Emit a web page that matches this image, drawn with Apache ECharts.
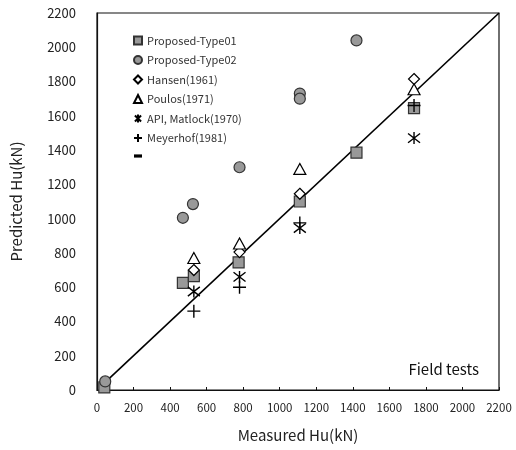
<!DOCTYPE html>
<html><head><meta charset="utf-8">
<script src="https://cdn.jsdelivr.net/npm/echarts@6/dist/echarts.min.js"></script>
<style>html,body{margin:0;padding:0;background:#fff}#c{width:516px;height:450px}</style>
</head><body><div id="c"></div>
<script>
// Measured vs predicted ultimate lateral capacity, field tests (kN)
const type01   = [[40,15],[470,625],[530,665],[775,745],[1110,1100],[1420,1385],[1735,1645]];
const type02   = [[45,50],[470,1005],[525,1085],[780,1300],[1110,1730],[1110,1700],[1420,2040]];
const hansen   = [[530,700],[780,805],[1110,1145],[1735,1815]];
const poulos   = [[530,770],[780,855],[1110,1290],[1735,1755]];
const apiMatlock = [[530,575],[780,660],[1110,945],[1735,1470]];
const meyerhof = [[530,460],[780,600],[1110,975],[1735,1660]];
const equality = [[50,50],[2200,2200]];
const axisMin = 0, axisMax = 2200, axisStep = 200;

const FONT = '"Noto Sans CJK KR", "Noto Sans", sans-serif';
const ASTERISK = 'path://M-5,-5L5,5M-5,5L5,-5M0,-6.5L0,6.5';
const PLUS = 'path://M-6,0L6,0M0,-6L0,6';
const DASH = 'path://M0,0L10,0L10,4L0,4Z';
const plain = v => String(v);

const chart = echarts.init(document.getElementById('c'), null, {renderer: 'canvas'});
chart.setOption({
  backgroundColor: '#fff',
  animation: false,
  grid: {left: 97, right: 17, top: 13, bottom: 60, show: true, borderColor: '#111', borderWidth: 1.2, backgroundColor: 'transparent'},
  xAxis: {
    type: 'value', min: axisMin, max: axisMax, interval: axisStep,
    name: 'Measured Hu(kN)', nameLocation: 'middle', nameGap: 38,
    nameTextStyle: {fontFamily: FONT, fontSize: 15, color: '#222'},
    axisLine: {show: true, lineStyle: {color: '#111', width: 1.2}},
    axisTick: {show: true, inside: true, length: 3, lineStyle: {color: '#111'}},
    axisLabel: {fontFamily: FONT, fontSize: 11.5, color: '#222', margin: 12, formatter: plain},
    splitLine: {show: false}
  },
  yAxis: {
    type: 'value', min: axisMin, max: axisMax, interval: axisStep,
    name: 'Predicted Hu(kN)', nameLocation: 'middle', nameGap: 73, nameRotate: 90,
    nameTextStyle: {fontFamily: FONT, fontSize: 15, color: '#222'},
    axisLine: {show: true, lineStyle: {color: '#111', width: 1.2}},
    axisTick: {show: false},
    axisLabel: {fontFamily: FONT, fontSize: 13, color: '#222', margin: 21, formatter: plain},
    splitLine: {show: false}
  },
  legend: {
    orient: 'vertical', left: 128, top: 30,
    itemWidth: 8, itemHeight: 8, itemGap: 8.5,
    textStyle: {fontFamily: FONT, fontSize: 11, color: '#333'},
    formatter: name => name === 'y = x' ? '' : name,
    data: [
      {name: 'Proposed-Type01', icon: 'rect'},
      {name: 'Proposed-Type02', icon: 'circle'},
      {name: 'Hansen(1961)', icon: 'diamond'},
      {name: 'Poulos(1971)', icon: 'triangle'},
      {name: 'API, Matlock(1970)', icon: ASTERISK},
      {name: 'Meyerhof(1981)', icon: PLUS},
      {name: 'y = x', icon: DASH}
    ]
  },
  graphic: [{
    type: 'text', right: 37, top: 362,
    style: {text: 'Field tests', fontFamily: FONT, fontSize: 15, fill: '#111'}
  }],
  series: [
    {name: 'y = x', type: 'line', data: equality, symbol: 'none', z: 1,
     lineStyle: {color: '#000', width: 1.6}, itemStyle: {color: '#000'}},
    {name: 'Proposed-Type01', type: 'scatter', data: type01, symbol: 'rect', symbolSize: 11, z: 3,
     itemStyle: {color: '#999', borderColor: '#333', borderWidth: 1.2, opacity: 1}},
    {name: 'Proposed-Type02', type: 'scatter', data: type02, symbol: 'circle', symbolSize: 11, z: 3,
     itemStyle: {color: '#999', borderColor: '#333', borderWidth: 1.2, opacity: 1}},
    {name: 'Hansen(1961)', type: 'scatter', data: hansen, symbol: 'diamond', symbolSize: [11, 11], z: 4,
     itemStyle: {color: '#fff', borderColor: '#000', borderWidth: 1.2, opacity: 1}},
    {name: 'Poulos(1971)', type: 'scatter', data: poulos, symbol: 'triangle', symbolSize: [12, 11], z: 4,
     itemStyle: {color: '#fff', borderColor: '#000', borderWidth: 1.2, opacity: 1}},
    {name: 'API, Matlock(1970)', type: 'scatter', data: apiMatlock, symbol: ASTERISK, symbolSize: 12, z: 5,
     itemStyle: {color: '#000', borderColor: '#000', borderWidth: 1.4, opacity: 1}},
    {name: 'Meyerhof(1981)', type: 'scatter', data: meyerhof, symbol: PLUS, symbolSize: 13, z: 5,
     itemStyle: {color: '#000', borderColor: '#000', borderWidth: 1.4, opacity: 1}}
  ]
});
</script>
</body></html>
